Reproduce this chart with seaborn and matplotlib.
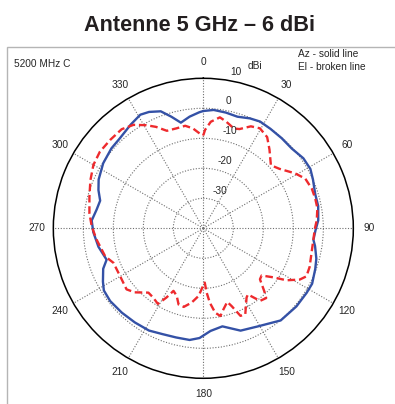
import numpy as np
import matplotlib
matplotlib.use("Agg")
import matplotlib.pyplot as plt
from matplotlib.patches import Rectangle
from matplotlib.transforms import offset_copy
import seaborn as sns

# Az - solid line (deg, dBi)
az_angle = [0, 5, 11, 17, 23, 28, 34, 41, 48, 55, 61, 66, 73, 79, 86, 91, 96, 99,
            105, 110, 117, 122, 130, 140, 151, 160, 169, 176, 182, 187, 194, 201,
            208, 216, 224, 232, 238, 242, 248, 252, 255, 260, 268, 274, 280, 285,
            290, 295, 303, 311, 317, 325, 331, 335, 340, 344, 348, 353, 358]
az_gain = [-0.9, -0.4, -0.7, -1.1, -0.2, 0.3, 0.0, -0.2, -0.3, 0.7, 0.8, 0.0, -1.0,
           -1.0, -1.6, -2.6, -3.1, -2.3, -1.0, -0.3, 0.7, 0.6, 0.5, 0.1, -2.6, -3.7,
           -6.7, -5.7, -3.4, -2.5, -2.5, -2.2, -1.4, -1.2, -0.9, -0.6, -0.9, -2.1,
           -4.0, -6.1, -5.6, -4.5, -3.3, -2.7, -3.9, -4.4, -2.8, -1.5, -0.2, 0.6, 0.9,
           2.2, 3.3, 2.8, 1.5, -1.3, -4.0, -2.5, -1.3]

# El - broken line (deg, dBi)
el_angle = [0, 1, 4, 8.5, 12, 17, 20, 25, 29.5, 35, 40, 47, 52, 59, 64, 70, 75, 80,
            86, 90, 103, 110, 115, 118, 122, 125, 129, 132, 136, 138, 142, 144, 146,
            148, 154, 157, 160, 162, 166, 169, 172, 175, 177, 178.5, 180, 184, 189,
            194, 198, 201.5, 205.5, 208, 211, 216, 220.5, 227, 231.5, 240, 249, 254,
            264, 271, 277.5, 285.5, 293, 300, 306.5, 313.5, 320.5, 326, 331, 335,
            339.5, 345, 350, 354, 359]
el_gain = [-9.0, -7.2, -4.4, -2.6, -3.6, -5.2, -4.8, -2.5, -1.7, -2.9, -5.7, -9.2,
           -7.8, -4.4, -2.2, -1.5, -1.4, -1.4, -2.1, -2.8, -3.0, -2.3, -2.1, -3.6,
           -7.3, -11.5, -15.0, -14.6, -10.7, -8.7, -9.3, -11.5, -13.4, -12.8, -8.1,
           -8.3, -12.4, -14.2, -12.2, -10.2, -11.6, -15.1, -18.5, -21.9, -21.0, -17.4,
           -14.9, -13.0, -13.3, -15.8, -16.9, -13.9, -10.6, -11.5, -11.8, -8.7, -7.3,
           -8.0, -7.9, -6.0, -4.2, -2.8, -1.7, -0.6, 0.9, 2.3, 2.9, 2.8, 2.8, 1.6,
           -0.7, -2.7, -5.3, -5.5, -5.3, -6.5, -8.9]

theta_ticks = list(range(0, 360, 30))
ring_values = [-30, -20, -10, 0]
ring_label_dx = [17, 22, 27, 25]

sns.set_style("white")
plt.rcParams['font.family'] = ['Liberation Sans', 'DejaVu Sans']

fig = plt.figure(figsize=(3.95, 4.04), dpi=100)
ax = fig.add_axes([0.135, 0.0636, 0.7595, 0.7426], projection='polar')
ax.set_theta_zero_location('N')
ax.set_theta_direction(-1)


def closed(angles, values):
    a = np.deg2rad(np.append(angles, angles[0] + 360))
    v = np.append(values, values[0])
    return a, v


a, v = closed(az_angle, az_gain)
sns.lineplot(x=a, y=v, ax=ax, sort=False, estimator=None, color='#3451a6', lw=1.7)
a, v = closed(el_angle, el_gain)
sns.lineplot(x=a, y=v, ax=ax, sort=False, estimator=None, color='#ee2a2d', lw=1.7,
             linestyle=(0, (3.2, 1.6)))

ax.set_ylim(-40, 10)
ax.set_xlabel('')
ax.set_ylabel('')
ax.set_thetagrids(theta_ticks, [str(t) for t in theta_ticks], fontsize=7.3)
ax.tick_params(axis='x', pad=1)
ax.set_rgrids(ring_values, labels=[''] * len(ring_values))
ax.grid(True, color='#6e6e6e', linestyle=(0, (1, 1.5)), lw=0.8)
ax.spines['polar'].set_color('black')
ax.spines['polar'].set_linewidth(1.1)

for val, dx in zip(ring_values, ring_label_dx):
    tr = offset_copy(ax.transData, fig=fig, x=dx, y=7, units='dots')
    ax.text(0, val, str(val), transform=tr, ha='center', va='center', fontsize=7.3)
tr = offset_copy(ax.transData, fig=fig, x=33, y=6, units='dots')
ax.text(0, 10, '10', transform=tr, ha='center', va='center', fontsize=7.3)
tr = offset_copy(ax.transData, fig=fig, x=52, y=12, units='dots')
ax.text(0, 10, 'dBi', transform=tr, ha='center', va='center', fontsize=7.3)

fig.patches.append(Rectangle((0.0177, -0.2), 1.5, 1.0837, transform=fig.transFigure,
                             fill=False, ec='#b5b5b5', lw=1))
fig.text(0.506, 0.936, 'Antenne 5 GHz \u2013 6 dBi', ha='center', va='center',
         fontsize=15.6, fontweight='bold', color='#231f20',
         family=['Liberation Sans Narrow', 'Liberation Sans', 'DejaVu Sans'])
fig.text(0.036, 0.841, '5200 MHz C', ha='left', va='center', fontsize=7.3)
fig.text(0.754, 0.866, 'Az - solid line', ha='left', va='center', fontsize=7.3)
fig.text(0.754, 0.835, 'El - broken line', ha='left', va='center', fontsize=7.3)

fig.savefig('out.png', dpi=100)
